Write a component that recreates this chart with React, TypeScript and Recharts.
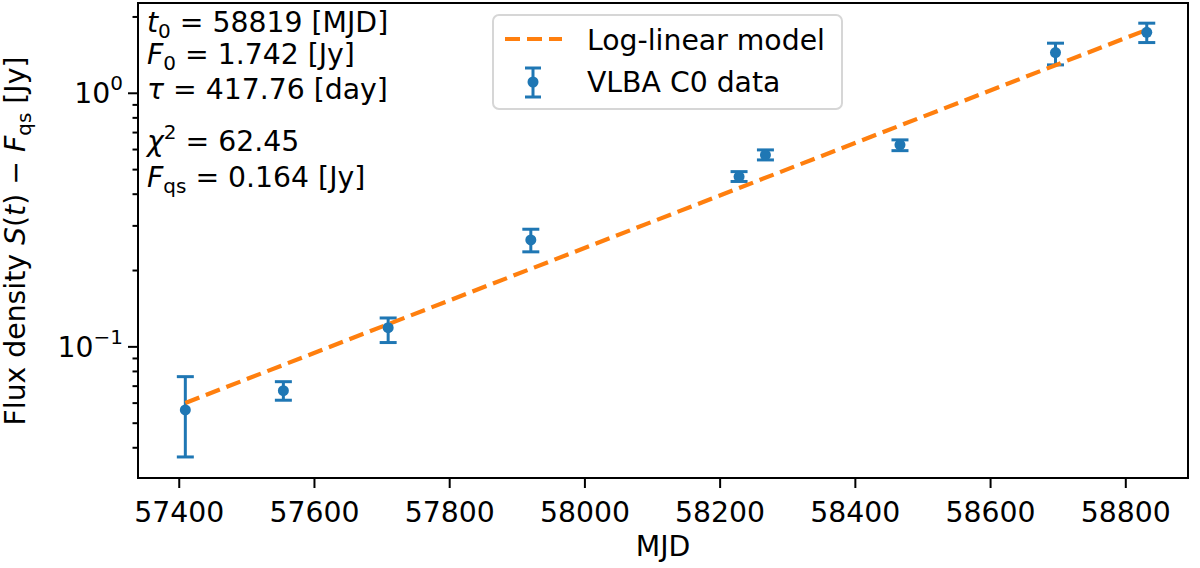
import React from 'react'
import {
    ErrorBar,
    ReferenceArea,
    Scatter,
    ScatterChart,
    XAxis,
    YAxis,
} from 'recharts'

// VLBA C0 measurements (MJD, flux density minus quiescent flux, error range)
const MJD = [57409, 57554, 57709, 57920, 58228, 58267, 58466, 58696, 58831]
const FLUX = [0.0564, 0.0672, 0.119, 0.264, 0.469, 0.571, 0.626, 1.447, 1.74]
const FLUX_LOW = [0.0368, 0.0616, 0.104, 0.237, 0.449, 0.546, 0.594, 1.294, 1.585]
const FLUX_HIGH = [0.0763, 0.0729, 0.13, 0.291, 0.491, 0.598, 0.655, 1.576, 1.89]

// log-linear model, end points of the dashed line
const MODEL_MJD = [57409, 58831]
const MODEL_FLUX = [0.0601, 1.78]

const X_TICKS = [57400, 57600, 57800, 58000, 58200, 58400, 58600, 58800]
const Y_MAJOR = [0.1, 1]
const Y_MINOR = [0.04, 0.05, 0.06, 0.07, 0.08, 0.09, 0.2, 0.3, 0.4, 0.5, 0.6, 0.7, 0.8, 0.9, 2]

const BLUE = '#1f77b4'
const ORANGE = '#ff7f0e'
const FONT = '"DejaVu Sans", sans-serif'
const FS = 28.3
const SUB = 20

const points = MJD.map((x, i) => ({
    x,
    y: FLUX[i],
    err: [FLUX[i] - FLUX_LOW[i], FLUX_HIGH[i] - FLUX[i]],
}))
const model = MODEL_MJD.map((x, i) => ({ x, y: MODEL_FLUX[i] }))

const YTick = (props: any) => {
    const { x, y, payload } = props
    const v = payload.value
    const major = Y_MAJOR.includes(v)
    return (
        <g>
            <line x1={x} x2={x - (major ? 10 : 5.5)} y1={y} y2={y} stroke="#000" strokeWidth={2} />
            {major && (
                <text x={x - 15} y={y + 10} textAnchor="end" fontSize={FS} fontFamily={FONT} fill="#000">
                    10
                    <tspan dy={-13} fontSize={SUB}>{v === 1 ? '0' : '\u22121'}</tspan>
                </text>
            )}
        </g>
    )
}

const Dot = (props: any) => <circle cx={props.cx} cy={props.cy} r={5.5} fill={BLUE} />

export default function App() {
    return (
        <div style={{ position: 'absolute', left: 0, top: 0, width: 1200, height: 568, background: '#fff' }}>
            <ScatterChart
                width={1200}
                height={568}
                margin={{ top: 3, right: 12, left: 0, bottom: 0 }}
            >
                <XAxis
                    type="number"
                    dataKey="x"
                    domain={[57339, 58892]}
                    allowDataOverflow
                    ticks={X_TICKS}
                    height={90}
                    tickSize={10}
                    tickMargin={14}
                    stroke="#000"
                    strokeWidth={2}
                    tick={{ fontSize: FS, fontFamily: FONT, fill: '#000' }}
                />
                <YAxis
                    type="number"
                    dataKey="y"
                    scale="log"
                    domain={[0.0304, 2.27]}
                    allowDataOverflow
                    ticks={[...Y_MINOR, ...Y_MAJOR]}
                    width={138}
                    tickSize={0}
                    tickMargin={0}
                    tickLine={false}
                    interval={0}
                    stroke="#000"
                    strokeWidth={2}
                    tick={<YTick />}
                />
                <ReferenceArea
                    x1={57339}
                    x2={58892}
                    y1={0.0304}
                    y2={2.27}
                    fill="none"
                    stroke="#000"
                    strokeWidth={2}
                    ifOverflow="visible"
                />
                <Scatter
                    data={model}
                    line={{ stroke: ORANGE, strokeWidth: 4.2, strokeDasharray: '15 7' }}
                    shape={() => <g />}
                    isAnimationActive={false}
                />
                <Scatter data={points} shape={<Dot />} isAnimationActive={false}>
                    <ErrorBar dataKey="err" direction="y" width={8.5} stroke={BLUE} strokeWidth={3} />
                </Scatter>
            </ScatterChart>

            <svg
                width={1200}
                height={568}
                style={{ position: 'absolute', left: 0, top: 0, pointerEvents: 'none' }}
                fontFamily={FONT}
                fontSize={FS}
            >
                {/* fit parameters */}
                <text x={147} y={32}>
                    <tspan fontStyle="italic">t</tspan>
                    <tspan fontSize={SUB} dy={6}>0</tspan>
                    <tspan dy={-6}> = 58819 [MJD]</tspan>
                </text>
                <text x={147} y={64}>
                    <tspan fontStyle="italic">F</tspan>
                    <tspan fontSize={SUB} dy={6}>0</tspan>
                    <tspan dy={-6}> = 1.742 [Jy]</tspan>
                </text>
                <text x={147} y={99}>
                    <tspan fontStyle="italic">τ</tspan>
                    <tspan> = 417.76 [day]</tspan>
                </text>
                <text x={147} y={151}>
                    <tspan fontStyle="italic">χ</tspan>
                    <tspan fontSize={SUB} dy={-12}>2</tspan>
                    <tspan dy={12}> = 62.45</tspan>
                </text>
                <text x={147} y={187}>
                    <tspan fontStyle="italic">F</tspan>
                    <tspan fontSize={SUB} dy={6}>qs</tspan>
                    <tspan dy={-6}> = 0.164 [Jy]</tspan>
                </text>

                {/* legend */}
                <rect x={493} y={15} width={349} height={94} rx={6} fill="rgba(255,255,255,0.8)" stroke="#d6d6d6" strokeWidth={2} />
                <line x1={505} x2={562} y1={39} y2={39} stroke={ORANGE} strokeWidth={4.2} strokeDasharray="15 7" />
                <text x={587} y={50}>Log-linear model</text>
                <line x1={533} x2={533} y1={68} y2={97} stroke={BLUE} strokeWidth={3} />
                <line x1={525} x2={541} y1={68} y2={68} stroke={BLUE} strokeWidth={3} />
                <line x1={525} x2={541} y1={97} y2={97} stroke={BLUE} strokeWidth={3} />
                <circle cx={533} cy={82} r={5.5} fill={BLUE} />
                <text x={587} y={92}>VLBA C0 data</text>

                {/* axis labels */}
                <text x={663} y={556} textAnchor="middle">MJD</text>
                <text transform="translate(25,241) rotate(-90)" textAnchor="middle">
                    Flux density <tspan fontStyle="italic">S</tspan>(<tspan fontStyle="italic">t</tspan>) − <tspan fontStyle="italic">F</tspan>
                    <tspan fontSize={SUB} dy={6}>qs</tspan>
                    <tspan dy={-6}> [Jy]</tspan>
                </text>
            </svg>
        </div>
    )
}
